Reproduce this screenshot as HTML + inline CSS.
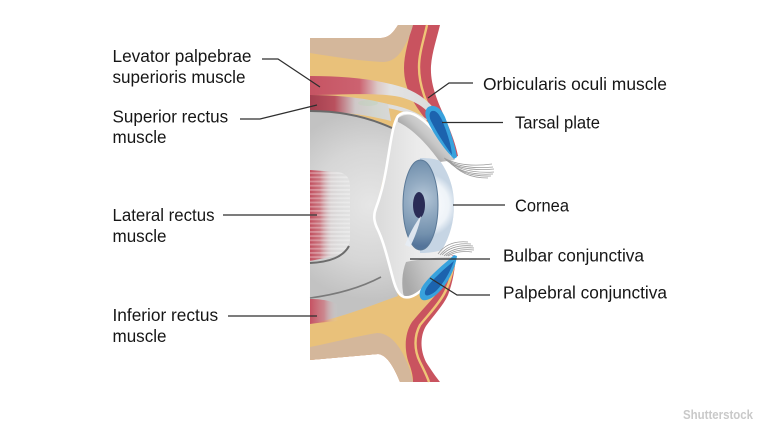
<!DOCTYPE html>
<html>
<head>
<meta charset="utf-8">
<style>
  html,body{margin:0;padding:0;background:#ffffff;}
  body{width:768px;height:434px;overflow:hidden;}
  svg{display:block;}
  .lbl{font-family:"Liberation Sans",Arial,sans-serif;font-size:17.4px;fill:#161616;}
  .ld{fill:none;stroke:#2e2e2e;stroke-width:1.2;}
</style>
</head>
<body>
<svg width="768" height="434" viewBox="0 0 768 434" xmlns="http://www.w3.org/2000/svg">
  <defs>
    <radialGradient id="globe" cx="370" cy="205" r="95" gradientUnits="userSpaceOnUse">
      <stop offset="0" stop-color="#e6e6e6"/>
      <stop offset="0.6" stop-color="#d6d6d6"/>
      <stop offset="1" stop-color="#c2c2c2"/>
    </radialGradient>
    <linearGradient id="front" x1="380" y1="0" x2="455" y2="0" gradientUnits="userSpaceOnUse">
      <stop offset="0" stop-color="#dcdcdc"/>
      <stop offset="0.5" stop-color="#ebebeb"/>
      <stop offset="1" stop-color="#f2f2f2"/>
    </linearGradient>
    <linearGradient id="ulid" x1="418" y1="142" x2="436" y2="124" gradientUnits="userSpaceOnUse">
      <stop offset="0" stop-color="#a9a9a9"/>
      <stop offset="0.4" stop-color="#c6c6c6"/>
      <stop offset="1" stop-color="#dddddd"/>
    </linearGradient>
    <linearGradient id="llid" x1="405" y1="280" x2="445" y2="265" gradientUnits="userSpaceOnUse">
      <stop offset="0" stop-color="#a8a8a8"/>
      <stop offset="0.5" stop-color="#c4c4c4"/>
      <stop offset="1" stop-color="#d6d6d6"/>
    </linearGradient>
    <radialGradient id="corn" cx="425" cy="205" r="32" gradientUnits="userSpaceOnUse">
      <stop offset="0" stop-color="#ffffff"/>
      <stop offset="0.75" stop-color="#eef3f8"/>
      <stop offset="1" stop-color="#c6d5e4"/>
    </radialGradient>
    <radialGradient id="iris" cx="423" cy="198" r="48" gradientUnits="userSpaceOnUse">
      <stop offset="0" stop-color="#b5c7d8"/>
      <stop offset="0.35" stop-color="#93abc2"/>
      <stop offset="0.75" stop-color="#7391ae"/>
      <stop offset="1" stop-color="#54749a"/>
    </radialGradient>
    <linearGradient id="lev" x1="310" y1="0" x2="440" y2="0" gradientUnits="userSpaceOnUse">
      <stop offset="0" stop-color="#c65463"/>
      <stop offset="0.38" stop-color="#cc6270"/>
      <stop offset="0.52" stop-color="#dcc9c7"/>
      <stop offset="0.62" stop-color="#e3e3e3"/>
      <stop offset="1" stop-color="#dadada"/>
    </linearGradient>
    <linearGradient id="sup" x1="310" y1="0" x2="392" y2="0" gradientUnits="userSpaceOnUse">
      <stop offset="0" stop-color="#a43f4f"/>
      <stop offset="0.3" stop-color="#b9515e"/>
      <stop offset="0.55" stop-color="#cfc8c8"/>
      <stop offset="0.8" stop-color="#d2d6d0"/>
      <stop offset="1" stop-color="#d8d8d8"/>
    </linearGradient>
    <linearGradient id="latred" x1="310" y1="0" x2="345" y2="0" gradientUnits="userSpaceOnUse">
      <stop offset="0" stop-color="#c24f5f" stop-opacity="1"/>
      <stop offset="0.28" stop-color="#c85f6b" stop-opacity="0.8"/>
      <stop offset="0.6" stop-color="#d9b0b4" stop-opacity="0.15"/>
      <stop offset="1" stop-color="#dddddd" stop-opacity="0"/>
    </linearGradient>
    <linearGradient id="lat" x1="310" y1="0" x2="350" y2="0" gradientUnits="userSpaceOnUse">
      <stop offset="0" stop-color="#d2d2d2"/>
      <stop offset="1" stop-color="#e2e2e2"/>
    </linearGradient>
    <pattern id="str" width="8" height="4.2" patternUnits="userSpaceOnUse">
      <rect x="0" y="0" width="8" height="1.8" fill="#ffffff" fill-opacity="0.3"/>
    </pattern>
    <linearGradient id="infred" x1="310" y1="0" x2="338" y2="0" gradientUnits="userSpaceOnUse">
      <stop offset="0" stop-color="#c65262" stop-opacity="1"/>
      <stop offset="0.5" stop-color="#cf6d78" stop-opacity="0.7"/>
      <stop offset="1" stop-color="#d8d8d8" stop-opacity="0"/>
    </linearGradient>
  </defs>

  <!-- skin red (outermost) -->
  <path fill="#c9535f" d="M310,38 L380,38 C390,38 394,31 398,25 L440,25 C437,38 432,52 431,66 C430,85 438,102 445,118 C451,132 456,145 458,156 L440,162 L430,205 L440,252 L456,256 C455,268 453,282 448,295 C443,306 433,316 426,326 C420,336 420,350 426,362 C431,370 436,377 440,382 L400,382 C395,370 388,355 378,354 L310,360 Z"/>
  <!-- thin yellow stripe in skin -->
  <path fill="none" stroke="#efc577" stroke-width="2.4" d="M427,25 C424,39 419,53 419,67 C419,87 427,104 435,120 C442,134 449,146 455,157"/>
  <path fill="none" stroke="#efc577" stroke-width="2.4" d="M455,258 C453,270 450,283 444,294 C438,305 428,315 420,325 C414,336 414,350 420,362 C424,370 427,376 429,382"/>

  <!-- fat -->
  <path fill="#e9c17a" d="M310,38 L380,38 C390,38 394,31 398,25 L412,25 C409,40 404,54 404,68 C404,90 415,106 428,122 C438,135 447,147 452,156 L440,162 L420,205 L440,252 L453,257 C450,270 446,282 438,292 C430,302 420,312 412,322 C404,334 404,352 410,366 C412,372 413,377 413,382 L400,382 C395,370 388,355 378,354 L310,360 Z"/>

  <!-- tan top / bottom -->
  <path fill="#d4b79b" d="M310,38 L380,38 C390,38 394,31 398,25 L413,25 C411,33 408,40 405,45 C400,55 393,62 383,62 C360,61 335,57 310,53 Z"/>
  <path fill="#d4b79b" d="M310,347 C335,342 358,336 377,333 C392,333 403,350 410,370 L413,382 L400,382 C395,370 388,355 378,354 L310,360 Z"/>

  <!-- levator palpebrae -->
  <path fill="url(#lev)" d="M310,76 C350,76 380,80 405,88 C420,94 430,102 437,113 L432,117 C425,107 415,101 400,97 C375,92 340,95 310,95 Z"/>
  <!-- second light band -->
  <path fill="none" stroke="#dedede" stroke-width="4" d="M372,104 C395,106 412,111 426,121"/>

  <!-- globe -->
  <path fill="url(#globe)" d="M310,109 C335,109 365,115 392,127 L388,158 L376,208 L392,275 L398,296 C370,306 340,318 310,324 Z"/>
  <!-- superior rectus -->
  <path fill="url(#sup)" d="M310,95 C335,95 360,97 388,104 L391,121 C368,115 340,111 310,111 Z"/>
  <ellipse cx="368" cy="103" rx="10" ry="3" fill="#b9d2b4" fill-opacity="0.35"/>
  <!-- globe top line -->
  <path fill="none" stroke="#6a6a6a" stroke-width="2" d="M310,111 C340,111 368,117 392,128"/>

  <!-- lateral rectus -->
  <path fill="url(#lat)" d="M310,170 L338,172 Q350,174 350,186 L350,240 Q349,252 335,256 L310,261 Z"/>
  <path fill="url(#latred)" d="M310,170 L338,172 Q350,174 350,186 L350,240 Q349,252 335,256 L310,261 Z"/>
  <path fill="url(#str)" d="M310,170 L338,172 Q350,174 350,186 L350,240 Q349,252 335,256 L310,261 Z"/>
  <path fill="none" stroke="#6c6c6c" stroke-width="2" d="M310,263 C330,262 343,257 349,246"/>
  <!-- lower globe line -->
  <path fill="none" stroke="#7a7a7a" stroke-width="1.6" d="M310,298 C340,294 362,287 381,277"/>
  <!-- inferior rectus -->
  <path fill="url(#infred)" d="M310,299 C325,299 335,302 340,306 L338,321 C325,322 317,323 310,324 Z"/>

  <!-- eye front (sclera / conjunctiva) -->
  <path fill="url(#front)" d="M398,116 C403,111 412,112 420,118 C432,126 443,141 452,156 L440,161 C450,175 454,190 454,205 C454,222 450,236 442,250 L455,257 C446,263 437,274 428,284 C420,292 412,299 404,297 C398,295 395,287 392,275 C388,260 384,243 378,230 C374,222 373,216 376,208 C381,195 385,178 388,158 C391,140 393,124 398,116 Z"/>
  <!-- upper lid conjunctiva -->
  <path fill="url(#ulid)" d="M398,118 C406,113 414,114 420,118 C432,126 443,141 452,156 L455,160 L440,162 C430,148 415,130 398,122 Z"/>
  <!-- lower lid conjunctiva -->
  <path fill="url(#llid)" d="M406,262 C420,259 440,257 455,257 C446,263 437,274 428,284 C420,292 412,299 404,297 C401,285 402,272 406,262 Z"/>

  <!-- cornea -->
  <path fill="url(#corn)" d="M420,158 C430,158 436,159 440,161 C450,175 454,190 454,205 C454,222 450,236 442,250 C436,252 428,253 420,253 Z"/>
  <!-- iris -->
  <ellipse cx="420.5" cy="205" rx="17.5" ry="45" fill="url(#iris)" stroke="#5b7997" stroke-width="1"/>
  <!-- pupil -->
  <ellipse cx="419" cy="205" rx="6" ry="13" fill="#2a2c56"/>
  <!-- highlight -->
  <path fill="#e6edf4" fill-opacity="0.92" d="M405,245 C409,235 415,223 421,216 C419,227 414,239 410,247 Z"/>

  <!-- white outline -->
  <path fill="none" stroke="#ffffff" stroke-width="2.6" stroke-linejoin="round" d="M452,156 C443,141 432,126 420,118 C412,112 403,111 398,116 C393,124 391,140 388,158 C385,178 381,195 376,208 C373,216 374,222 378,230 C384,243 388,260 392,275 C395,287 398,295 404,297 C412,299 420,292 428,284 C437,274 446,263 455,257"/>

  <!-- tarsal plates -->
  <path fill="#38a2dd" d="M431,106 C425,107 424,114 427,120 C433,133 443,148 454,159 L457,157 C455,145 450,130 445,117 C442,110 437,105 431,106 Z"/>
  <path fill="#1c63ae" d="M432,111 C429,112 429,117 431,121 C436,131 444,144 452,155 C451,143 446,130 442,120 C439,114 436,110 432,111 Z"/>
  <path fill="#38a2dd" d="M457,256 C455,270 447,285 437,294 C430,300 422,303 420,297 C418,290 425,282 433,274 C441,266 449,260 454,255 Z"/>
  <path fill="#1c63ae" d="M454,261 C450,272 444,283 436,291 C431,295 426,297 425,294 C424,290 429,284 436,277 C443,270 449,265 454,261 Z"/>

  <!-- upper lashes -->
  <g fill="none" stroke="#9c9c9c" stroke-width="0.8">
    <path d="M444,158 Q462,168 492,164"/>
    <path d="M445,159 Q462,170 493,167"/>
    <path d="M446,160 Q462,172 494,169"/>
    <path d="M447,160 Q462,174 494,172"/>
    <path d="M448,161 Q462,176 493,174"/>
    <path d="M449,161 Q462,177 491,176"/>
    <path d="M450,161 Q462,178 488,178"/>
  </g>
  <!-- lower lashes -->
  <g fill="none" stroke="#9c9c9c" stroke-width="0.8">
    <path d="M438,254 Q448,240 468,242"/>
    <path d="M440,255 Q450,242 471,244"/>
    <path d="M442,255 Q452,244 473,246"/>
    <path d="M444,256 Q454,246 474,248"/>
    <path d="M446,256 Q456,248 474,250"/>
    <path d="M448,256 Q458,250 472,252"/>
  </g>

  <!-- leader lines -->
  <path class="ld" d="M262,59 L278,59 L320,87"/>
  <path class="ld" d="M240,119 L260,119 L317,105"/>
  <path class="ld" d="M223,215 L317,215"/>
  <path class="ld" d="M228,316 L317,316"/>
  <path class="ld" d="M473,83 L449,83 L428,98"/>
  <path class="ld" d="M442,122.5 L503,122.5"/>
  <path class="ld" d="M453,205 L505,205"/>
  <path class="ld" d="M410,259 L490,259"/>
  <path class="ld" d="M430,278 L457,295 L490,295"/>

  <!-- labels -->
  <text class="lbl" x="112.5" y="62" textLength="139" lengthAdjust="spacingAndGlyphs">Levator palpebrae</text>
  <text class="lbl" x="112.5" y="83" textLength="133" lengthAdjust="spacingAndGlyphs">superioris muscle</text>
  <text class="lbl" x="112.5" y="122.5" textLength="115.6" lengthAdjust="spacingAndGlyphs">Superior rectus</text>
  <text class="lbl" x="112.5" y="143" textLength="54" lengthAdjust="spacingAndGlyphs">muscle</text>
  <text class="lbl" x="112.5" y="221" textLength="102" lengthAdjust="spacingAndGlyphs">Lateral rectus</text>
  <text class="lbl" x="112.5" y="242" textLength="54" lengthAdjust="spacingAndGlyphs">muscle</text>
  <text class="lbl" x="112.5" y="321" textLength="105.6" lengthAdjust="spacingAndGlyphs">Inferior rectus</text>
  <text class="lbl" x="112.5" y="342" textLength="54" lengthAdjust="spacingAndGlyphs">muscle</text>

  <text class="lbl" x="483" y="90" textLength="184" lengthAdjust="spacingAndGlyphs">Orbicularis oculi muscle</text>
  <text class="lbl" x="515" y="128.5" textLength="85" lengthAdjust="spacingAndGlyphs">Tarsal plate</text>
  <text class="lbl" x="515" y="211.5" textLength="54" lengthAdjust="spacingAndGlyphs">Cornea</text>
  <text class="lbl" x="503" y="261.5" textLength="141" lengthAdjust="spacingAndGlyphs">Bulbar conjunctiva</text>
  <text class="lbl" x="503" y="298.5" textLength="164" lengthAdjust="spacingAndGlyphs">Palpebral conjunctiva</text>

  <!-- watermark -->
  <text x="683" y="419" font-family="Liberation Sans, Arial, sans-serif" font-size="12.5" font-weight="bold" fill="#c9c9c9" textLength="70" lengthAdjust="spacingAndGlyphs">Shutterstock</text>
</svg>
</body>
</html>
